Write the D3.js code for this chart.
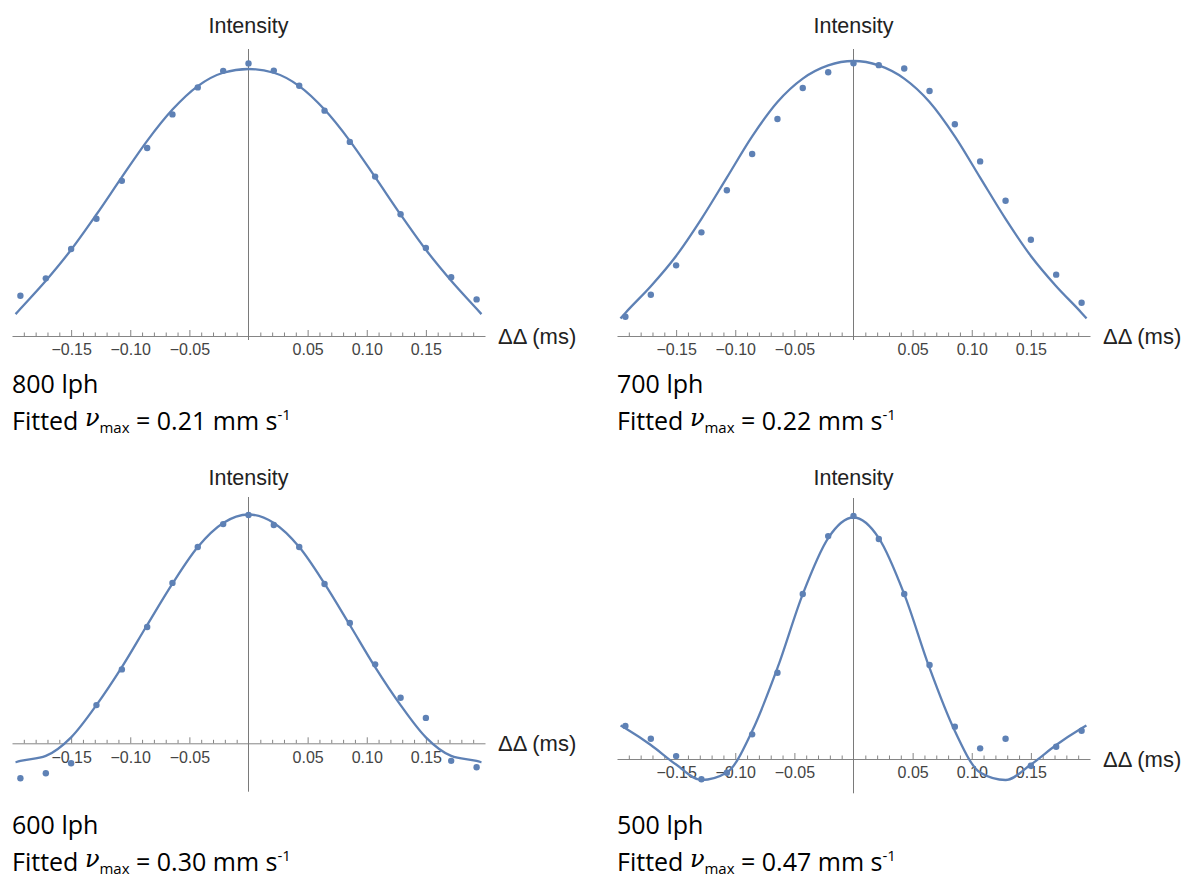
<!DOCTYPE html>
<html>
<head>
<meta charset="utf-8">
<script src="https://cdnjs.cloudflare.com/ajax/libs/d3/7.8.5/d3.min.js"></script>
<style>
  body { margin: 0; background: #fff; }
  svg { display: block; }
</style>
</head>
<body>
<div id="chart"></div>
<script>
// measured delay offsets, ms
const deltaX = [-0.1929, -0.1714, -0.15, -0.1286, -0.1071, -0.0857, -0.0643, -0.0429, -0.0214, 0,
                0.0214, 0.0429, 0.0643, 0.0857, 0.1071, 0.1286, 0.15, 0.1714, 0.1929];
const fitX = [-0.197, -0.1929, -0.1714, -0.15, -0.1286, -0.1071, -0.0857, -0.0643, -0.0429, -0.0214, 0,
              0.0214, 0.0429, 0.0643, 0.0857, 0.1071, 0.1286, 0.15, 0.1714, 0.1929, 0.197];

// normalised intensity, one array per flow rate
const pts800 = [0.151, 0.216, 0.326, 0.439, 0.581, 0.704, 0.830, 0.931, 0.993, 1.021,
                0.994, 0.937, 0.844, 0.727, 0.597, 0.456, 0.330, 0.220, 0.137];
const fit800 = [0.082, 0.102, 0.207, 0.323, 0.455, 0.595, 0.731, 0.848, 0.936, 0.986, 1.000,
                0.986, 0.936, 0.848, 0.731, 0.595, 0.455, 0.323, 0.207, 0.102, 0.082];

const pts700 = [0.070, 0.150, 0.257, 0.377, 0.530, 0.662, 0.789, 0.902, 0.959, 0.992,
                0.985, 0.973, 0.891, 0.770, 0.635, 0.492, 0.350, 0.223, 0.121];
const fit700 = [0.064, 0.084, 0.181, 0.291, 0.426, 0.576, 0.726, 0.851, 0.936, 0.984, 1.000,
                0.984, 0.936, 0.851, 0.726, 0.576, 0.426, 0.291, 0.181, 0.084, 0.064];

const pts600 = [-0.153, -0.131, -0.087, 0.167, 0.323, 0.508, 0.701, 0.858, 0.958, 0.998,
                0.954, 0.858, 0.696, 0.526, 0.345, 0.199, 0.111, -0.077, -0.105];
const fit600 = [-0.083, -0.077, -0.055, 0.026, 0.167, 0.333, 0.517, 0.698, 0.858, 0.963, 1.000,
                0.963, 0.858, 0.698, 0.517, 0.333, 0.167, 0.026, -0.055, -0.077, -0.083];

const pts500 = [0.137, 0.084, 0.012, -0.084, -0.057, 0.102, 0.357, 0.683, 0.923, 1.006,
                0.911, 0.683, 0.389, 0.134, 0.044, 0.084, -0.028, 0.051, 0.117];
const fit500 = [0.139, 0.127, 0.058, -0.023, -0.087, -0.056, 0.116, 0.377, 0.683, 0.915, 1.000,
                0.915, 0.683, 0.377, 0.116, -0.056, -0.087, -0.023, 0.058, 0.127, 0.139];

const flowLabels = ["800 lph", "700 lph", "600 lph", "500 lph"];
const vmaxLabels = ["0.21", "0.22", "0.30", "0.47"];
const majorTicks = [-0.15, -0.10, -0.05, 0.05, 0.10, 0.15];
const majorLabels = ["\u22120.15", "\u22120.10", "\u22120.05", "0.05", "0.10", "0.15"];

const series = [
  { pts: pts800, fit: fit800 },
  { pts: pts700, fit: fit700 },
  { pts: pts600, fit: fit600 },
  { pts: pts500, fit: fit500 }
];

// panel placement (pixels)
const panelW = 473;
const layout = [
  { left: 12,  axisY: 336,   peakY: 69,    top: 49,  bottom: 340,   titleY: 33,  capY: 393 },
  { left: 617, axisY: 336,   peakY: 61,    top: 49,  bottom: 340,   titleY: 33,  capY: 393 },
  { left: 12,  axisY: 743.3, peakY: 514.5, top: 497, bottom: 791.7, titleY: 485, capY: 834 },
  { left: 617, axisY: 759,   peakY: 517.5, top: 498, bottom: 793.3, titleY: 485, capY: 834 }
];

const blue = "#5e81b5";
const axisGrey = "#858585";

const svg = d3.select("#chart").append("svg")
  .attr("width", 1187)
  .attr("height", 877);

layout.forEach(function(p, i) {
  const s = series[i];
  const g = svg.append("g");

  const x = d3.scaleLinear().domain([-0.2, 0.2]).range([p.left, p.left + panelW]);
  const y = d3.scaleLinear().domain([0, 1]).range([p.axisY, p.peakY]);

  // minor ticks every 0.01
  const minor = x.ticks(40).filter(t => Math.abs(t) < 0.195 && Math.abs(Math.round(t * 100)) % 5 !== 0);
  g.append("g")
    .attr("transform", `translate(0,${p.axisY})`)
    .call(d3.axisBottom(x).tickValues(minor).tickSizeInner(-3.5).tickSizeOuter(0).tickFormat(""))
    .call(a => a.select(".domain").remove())
    .call(a => a.selectAll("line").attr("stroke", axisGrey));

  // major ticks + labels
  g.append("g")
    .attr("transform", `translate(0,${p.axisY})`)
    .call(d3.axisBottom(x).tickValues(majorTicks).tickSizeInner(-6).tickSizeOuter(0).tickPadding(8)
            .tickFormat((d, j) => majorLabels[j]))
    .call(a => a.select(".domain").attr("stroke", axisGrey))
    .call(a => a.selectAll("line").attr("stroke", axisGrey))
    .call(a => a.selectAll("text")
                .attr("font-family", "'Liberation Sans', Arial, sans-serif")
                .attr("font-size", "16px")
                .attr("fill", "#444"));

  // vertical axis
  g.append("line")
    .attr("x1", x(0)).attr("x2", x(0))
    .attr("y1", p.top).attr("y2", p.bottom)
    .attr("stroke", "#7a7a7a")
    .attr("stroke-width", 1);

  g.append("text")
    .attr("x", x(0))
    .attr("y", p.titleY)
    .attr("text-anchor", "middle")
    .attr("font-family", "'Liberation Sans', Arial, sans-serif")
    .attr("font-size", "21.5px")
    .attr("fill", "#222")
    .text("Intensity");

  g.append("text")
    .attr("x", p.left + panelW + 13)
    .attr("y", p.axisY + 7.5)
    .attr("font-family", "'Liberation Sans', Arial, sans-serif")
    .attr("font-size", "22px")
    .attr("fill", "#222")
    .text("\u0394\u0394 (ms)");

  // fitted curve
  const line = d3.line()
    .x((d, j) => x(fitX[j]))
    .y(d => y(d))
    .curve(d3.curveMonotoneX);

  g.append("path")
    .datum(s.fit)
    .attr("d", line)
    .attr("fill", "none")
    .attr("stroke", blue)
    .attr("stroke-width", 2.3);

  // measured points
  g.selectAll(".pt")
    .data(s.pts)
    .enter()
    .append("circle")
      .attr("class", "pt")
      .attr("cx", (d, j) => x(deltaX[j]))
      .attr("cy", d => y(d))
      .attr("r", 3.2)
      .attr("fill", blue);

  // captions
  g.append("text")
    .attr("x", p.left)
    .attr("y", p.capY)
    .attr("font-family", "'Open Sans', sans-serif")
    .attr("font-size", "25px")
    .attr("fill", "#000")
    .text(flowLabels[i]);

  const cap = g.append("text")
    .attr("x", p.left)
    .attr("y", p.capY + 37)
    .attr("font-family", "'Open Sans', sans-serif")
    .attr("font-size", "25px")
    .attr("fill", "#000");
  cap.append("tspan").text("Fitted ");
  cap.append("tspan")
    .attr("font-family", "'DejaVu Serif', serif")
    .attr("font-style", "italic")
    .attr("font-size", "24px")
    .attr("dy", -4)
    .text("\u03bd");
  cap.append("tspan")
    .attr("font-size", "15px")
    .attr("dy", 7)
    .text("max");
  cap.append("tspan")
    .attr("dy", -3)
    .text(" = " + vmaxLabels[i] + " mm s");
  cap.append("tspan")
    .attr("font-size", "15px")
    .attr("dy", -10)
    .text("-1");
});
</script>
</body>
</html>
